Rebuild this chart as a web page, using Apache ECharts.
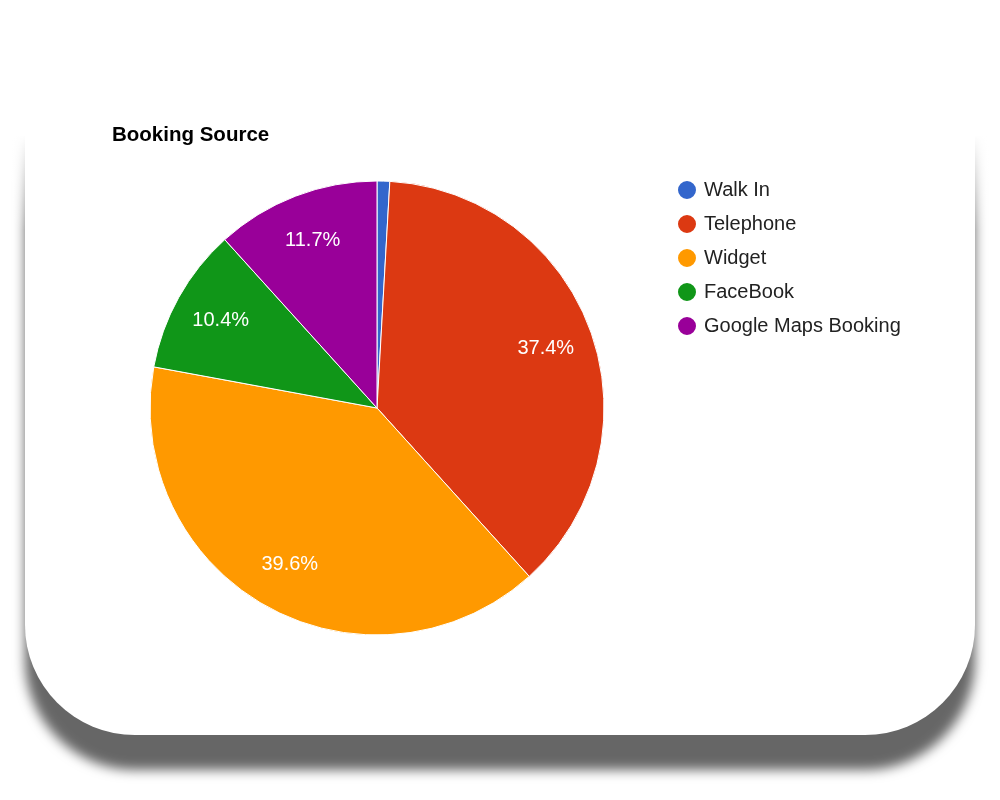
<!DOCTYPE html>
<html>
<head>
<meta charset="utf-8">
<title>Booking Source</title>
<script src="https://cdn.jsdelivr.net/npm/echarts@6/dist/echarts.min.js"></script>
<style>
  body { margin: 0; background: #fff; }
  #wrap { position: relative; width: 1000px; height: 800px; overflow: hidden; }
  #card {
    position: absolute; left: 25px; top: -70px; width: 950px; height: 805px;
    background: #fff; border-radius: 110px;
    box-shadow: 0 35px 12px rgba(0, 0, 0, 0.6);
  }
  /* the card's side shadow fades in towards the top */
  #fade {
    position: absolute; left: 0; top: 0; width: 1000px; height: 230px;
    background: linear-gradient(to bottom, #fff 135px, rgba(255,255,255,0) 230px);
  }
  #main { position: absolute; left: 0; top: 0; width: 1000px; height: 800px; }
</style>
</head>
<body>
<div id="wrap">
  <div id="card"></div>
  <div id="fade"></div>
  <div id="main"></div>
</div>
<script>
// booking share per source (%)
const sources = ['Walk In', 'Telephone', 'Widget', 'FaceBook', 'Google Maps Booking'];
const shares = [0.9, 37.4, 39.6, 10.4, 11.7];
const colors = ['#3366cc', '#dc3912', '#ff9900', '#109618', '#990099'];

const pieData = sources.map((name, i) => ({ name: name, value: shares[i] }));

const myChart = echarts.init(document.getElementById('main'));

const option = {
    color: colors,
    textStyle: { fontFamily: '"Liberation Sans", Arial, sans-serif' },
    title: {
        text: 'Booking Source',
        left: 112,
        top: 125,
        padding: 0,
        textStyle: { fontSize: 20.5, fontWeight: 'bold', color: '#000' }
    },
    legend: {
        orient: 'vertical',
        left: 676,
        top: 179,
        padding: 0,
        icon: 'circle',
        itemWidth: 20,
        itemHeight: 20,
        itemGap: 12,
        data: sources,
        textStyle: { fontSize: 20, color: '#222', padding: [0, 0, 0, 2] }
    },
    series: [
        {
            // the slices
            type: 'pie',
            center: [377, 408],
            radius: 227,
            startAngle: 90,
            clockwise: true,
            silent: true,
            itemStyle: { borderColor: '#fff', borderWidth: 1 },
            label: { show: false },
            labelLine: { show: false },
            data: pieData
        },
        {
            // ring only used to place the labels further out
            type: 'pie',
            center: [377, 408],
            radius: [125, 227],
            startAngle: 90,
            clockwise: true,
            silent: true,
            percentPrecision: 1,
            itemStyle: { color: 'rgba(0,0,0,0)' },
            label: {
                show: true,
                position: 'inside',
                color: '#fff',
                fontSize: 20,
                formatter: p => (p.percent < 5 ? '' : p.percent.toFixed(1) + '%')
            },
            labelLine: { show: false },
            data: pieData
        }
    ]
};

myChart.setOption(option);
</script>
</body>
</html>
